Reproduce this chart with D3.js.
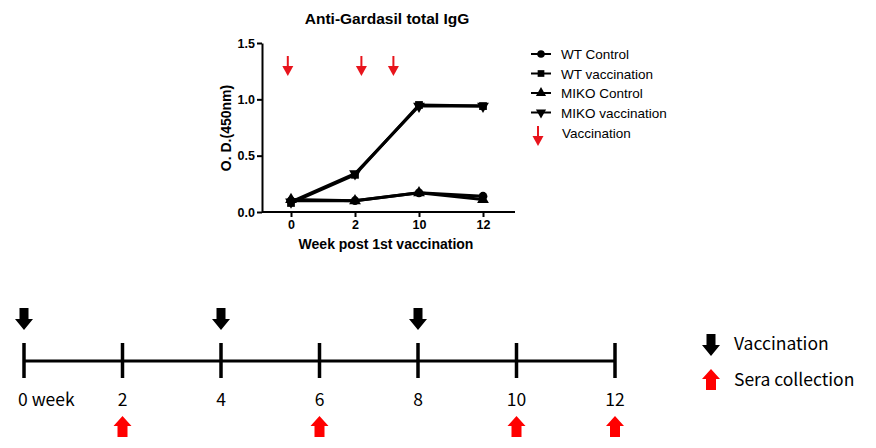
<!DOCTYPE html>
<html>
<head>
<meta charset="utf-8">
<script src="https://cdn.jsdelivr.net/npm/d3@7"></script>
<style>
  body { margin: 0; background: #fff; }
  svg { display: block; }
</style>
</head>
<body>
<div id="chart"></div>
<script>
// chart data
const weeks = ["0", "2", "10", "12"];
const series_names = ["WT Control", "WT vaccination", "MIKO Control", "MIKO vaccination"];
const series_symbols = ["circle", "square", "triangle", "triangleDown"];
const wt_control = [0.10, 0.10, 0.17, 0.14];
const wt_vacc = [0.08, 0.33, 0.95, 0.94];
const miko_control = [0.11, 0.10, 0.17, 0.11];
const miko_vacc = [0.09, 0.34, 0.94, 0.94];
const y_ticks = [0.0, 0.5, 1.0, 1.5];
// vaccination arrows in chart, as fractional category index
const vacc_arrow_idx = [-0.05, 1.1, 1.6];

// timeline data
const timeline_weeks = [0, 2, 4, 6, 8, 10, 12];
const vacc_weeks = [0, 4, 8];
const sera_weeks = [2, 6, 10, 12];

const W = 876, H = 448;
const svg = d3.select("#chart").append("svg").attr("width", W).attr("height", H);

const x = d3.scalePoint().domain(weeks).range([291, 483]);
const xi = d3.scaleLinear().domain([0, weeks.length - 1]).range([291, 483]);
const y = d3.scaleLinear().domain([0, 1.5]).range([212, 43]);

const boldFont = "'Liberation Sans', Arial, sans-serif";

// title
svg.append("text").attr("x", 387).attr("y", 24).attr("text-anchor", "middle")
  .attr("font-family", boldFont).attr("font-weight", "bold").attr("font-size", 15.5)
  .text("Anti-Gardasil total IgG");

// y axis
const yAxis = svg.append("g").attr("transform", "translate(262,0)")
  .call(d3.axisLeft(y).tickValues(y_ticks).tickFormat(d3.format(".1f")).tickSize(5).tickSizeOuter(0));
// x axis
const xAxis = svg.append("g").attr("transform", "translate(0,212)")
  .call(d3.axisBottom(x).tickSize(5).tickSizeOuter(0));
xAxis.select(".domain").attr("d", "M262,0H515");
[yAxis, xAxis].forEach(a => {
  a.select(".domain").attr("stroke-width", 2);
  a.selectAll(".tick line").attr("stroke-width", 2);
  a.selectAll("text").attr("font-family", boldFont).attr("font-weight", "bold")
    .attr("font-size", 12.5).attr("fill", "#000");
});
yAxis.selectAll("text").attr("x", -7);

svg.append("text").attr("x", 386).attr("y", 249).attr("text-anchor", "middle")
  .attr("font-family", boldFont).attr("font-weight", "bold").attr("font-size", 14)
  .text("Week post 1st vaccination");
svg.append("text").attr("transform", "translate(231,128) rotate(-90)").attr("text-anchor", "middle")
  .attr("font-family", boldFont).attr("font-weight", "bold").attr("font-size", 14)
  .text("O. D.(450nm)");

// lines
const all_series = [wt_control, wt_vacc, miko_control, miko_vacc];
const line = d3.line().x((d, i) => x(weeks[i])).y(d => y(d));
const symbolType = {
  circle: d3.symbolCircle, square: d3.symbolSquare,
  triangle: d3.symbolTriangle, triangleDown: d3.symbolTriangle
};
function drawSymbol(g, name, cx, cy, size) {
  g.append("path")
    .attr("d", d3.symbol().type(symbolType[name]).size(size)())
    .attr("transform", `translate(${cx},${cy})` + (name === "triangleDown" ? " rotate(180)" : ""))
    .attr("fill", "#000");
}
all_series.forEach((s, k) => {
  svg.append("path").attr("d", line(s)).attr("fill", "none")
    .attr("stroke", "#000").attr("stroke-width", 3);
});
all_series.forEach((s, k) => {
  s.forEach((v, i) => drawSymbol(svg, series_symbols[k], x(weeks[i]), y(v), 60));
});

// small red arrows
function redThinArrow(cx, top, bottom) {
  svg.append("line").attr("x1", cx).attr("x2", cx).attr("y1", top).attr("y2", bottom - 9)
    .attr("stroke", "#e8141c").attr("stroke-width", 2);
  svg.append("path").attr("d", `M${cx - 5.5},${bottom - 10}L${cx + 5.5},${bottom - 10}L${cx},${bottom}Z`)
    .attr("fill", "#e8141c");
}
vacc_arrow_idx.forEach(i => redThinArrow(xi(i), 56, 76));

// legend
const legendFont = "'Liberation Sans', Arial, sans-serif";
series_names.forEach((name, k) => {
  const ly = 54 + k * 19.5;
  svg.append("line").attr("x1", 531).attr("x2", 551).attr("y1", ly).attr("y2", ly)
    .attr("stroke", "#000").attr("stroke-width", 2);
  drawSymbol(svg, series_symbols[k], 541, ly, 45);
  svg.append("text").attr("x", 561).attr("y", ly + 5)
    .attr("font-family", legendFont).attr("font-size", 13.5).text(name);
});
redThinArrow(538, 126, 146);
svg.append("text").attr("x", 562).attr("y", 138)
  .attr("font-family", legendFont).attr("font-size", 13.5).text("Vaccination");

// timeline
const t = d3.scaleLinear().domain([0, 12]).range([24, 615]);
const tlFont = "'Noto Sans CJK KR', 'Noto Sans', sans-serif";
svg.append("line").attr("x1", t(0)).attr("x2", t(12)).attr("y1", 361).attr("y2", 361)
  .attr("stroke", "#000").attr("stroke-width", 3);
svg.selectAll(".tl-tick").data(timeline_weeks).join("line").attr("class", "tl-tick")
  .attr("x1", d => t(d)).attr("x2", d => t(d)).attr("y1", 343).attr("y2", 378)
  .attr("stroke", "#000").attr("stroke-width", 3.5);
svg.selectAll(".tl-label").data(timeline_weeks).join("text").attr("class", "tl-label")
  .attr("x", d => d === 0 ? t(d) - 6 : t(d))
  .attr("y", 406)
  .attr("text-anchor", d => d === 0 ? "start" : "middle")
  .attr("font-family", tlFont).attr("font-size", 17.5)
  .text(d => d === 0 ? "0 week" : d);

function blockDown(cx, top, color) {
  svg.append("path")
    .attr("d", `M${cx - 4.5},${top}H${cx + 4.5}V${top + 11}H${cx + 9}L${cx},${top + 22}L${cx - 9},${top + 11}H${cx - 4.5}Z`)
    .attr("fill", color);
}
function blockUp(cx, top, color) {
  svg.append("path")
    .attr("d", `M${cx},${top}L${cx + 9},${top + 10}H${cx + 5}V${top + 21}H${cx - 5}V${top + 10}H${cx - 9}Z`)
    .attr("fill", color);
}
vacc_weeks.forEach(w => blockDown(t(w), 308, "#000"));
sera_weeks.forEach(w => blockUp(t(w), 416, "#f00"));

blockDown(711, 334, "#000");
blockUp(711, 369, "#f00");
svg.append("text").attr("x", 734).attr("y", 350).attr("font-family", tlFont).attr("font-size", 17.5)
  .text("Vaccination");
svg.append("text").attr("x", 734).attr("y", 386).attr("font-family", tlFont).attr("font-size", 17.5)
  .text("Sera collection");
</script>
</body>
</html>
